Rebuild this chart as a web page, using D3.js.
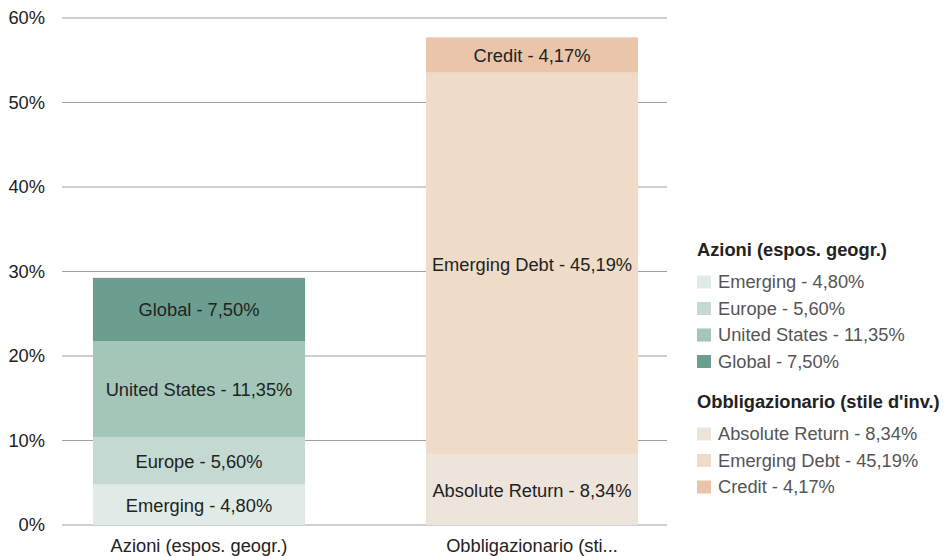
<!DOCTYPE html>
<html><head><meta charset="utf-8">
<script src="https://cdn.jsdelivr.net/npm/d3@7"></script>
<style>body{margin:0;background:#fff;} svg{display:block;font-family:"Liberation Sans",Arial,sans-serif;}</style>
</head><body><svg id="c" width="944" height="556"></svg>
<script>
const categories = ["Azioni (espos. geogr.)", "Obbligazionario (stile d'inv.)"];
const categoryLabels = ["Azioni (espos. geogr.)", "Obbligazionario (sti..."];
const azioniNames = ["Emerging", "Europe", "United States", "Global"];
const azioniValues = [4.80, 5.60, 11.35, 7.50];
const azioniColors = ["#e0eae6", "#c3d9d1", "#a4c6b9", "#6c9e8f"];
const obblNames = ["Absolute Return", "Emerging Debt", "Credit"];
const obblValues = [8.34, 45.19, 4.17];
const obblColors = ["#ede4dc", "#efdcc8", "#eac5aa"];
const yTicks = [0, 10, 20, 30, 40, 50, 60];

const FS = 18.3;
const fmt = v => v.toFixed(2).replace(".", ",") + "%";
const groups = [
  {names: azioniNames, values: azioniValues, colors: azioniColors},
  {names: obblNames, values: obblValues, colors: obblColors}
];

const svg = d3.select("#c");
const y = d3.scaleLinear().domain([0, 60]).range([525, 18]);
const x = d3.scaleBand().domain(categories).range([32.5, 698.5]).paddingInner(0.363).paddingOuter(0.1815);

svg.append("g").selectAll("line").data(yTicks).join("line")
  .attr("x1", 62).attr("x2", 667)
  .attr("y1", d => y(d)).attr("y2", d => y(d))
  .attr("stroke", "#a0a0a0").attr("stroke-width", 1);

const yAxis = d3.axisLeft(y).tickValues(yTicks).tickFormat(d => d + "%").tickSize(0).tickPadding(0);
const ya = svg.append("g").attr("transform", "translate(45,0)").call(yAxis);
ya.select(".domain").remove();
ya.selectAll("text").attr("font-size", FS).attr("fill", "#222").attr("font-family", "Liberation Sans, Arial, sans-serif");

groups.forEach((g, gi) => {
  const cat = categories[gi];
  let acc = 0;
  const segs = g.values.map((v, i) => { const s = {y0: acc, y1: acc + v, name: g.names[i], v, color: g.colors[i]}; acc += v; return s; });
  const gg = svg.append("g");
  gg.selectAll("rect").data(segs).join("rect")
    .attr("x", x(cat)).attr("width", x.bandwidth())
    .attr("y", d => y(d.y1)).attr("height", d => y(d.y0) - y(d.y1))
    .attr("fill", d => d.color);
  gg.selectAll("text").data(segs).join("text")
    .attr("x", x(cat) + x.bandwidth() / 2)
    .attr("y", d => (y(d.y0) + y(d.y1)) / 2 + 0.5)
    .attr("dy", "0.35em").attr("text-anchor", "middle")
    .attr("font-size", FS).attr("fill", "#222")
    .text(d => d.name + " - " + fmt(d.v));
});

const xAxis = d3.axisBottom(x).tickSize(0).tickPadding(0).tickFormat((d, i) => categoryLabels[i]);
const xa = svg.append("g").attr("transform", "translate(0,539)").call(xAxis);
xa.select(".domain").remove();
xa.selectAll("text").attr("font-size", FS).attr("fill", "#222").attr("font-family", "Liberation Sans, Arial, sans-serif");

const legendBlocks = [
  {title: categories[0], names: azioniNames, values: azioniValues, colors: azioniColors, y0: 250},
  {title: categories[1], names: obblNames, values: obblValues, colors: obblColors, y0: 402}
];
legendBlocks.forEach(b => {
  const lg = svg.append("g");
  lg.append("text").attr("x", 697).attr("y", b.y0).attr("dy", "0.35em")
    .attr("font-size", FS).attr("font-weight", "bold").attr("fill", "#222").text(b.title);
  b.names.forEach((n, i) => {
    const yy = b.y0 + 32 + i * 26.5;
    lg.append("rect").attr("x", 697).attr("y", yy - 6.5).attr("width", 14).attr("height", 13).attr("fill", b.colors[i]);
    lg.append("text").attr("x", 718).attr("y", yy).attr("dy", "0.35em")
      .attr("font-size", FS).attr("fill", "#555").text(n + " - " + fmt(b.values[i]));
  });
});
</script></body></html>
